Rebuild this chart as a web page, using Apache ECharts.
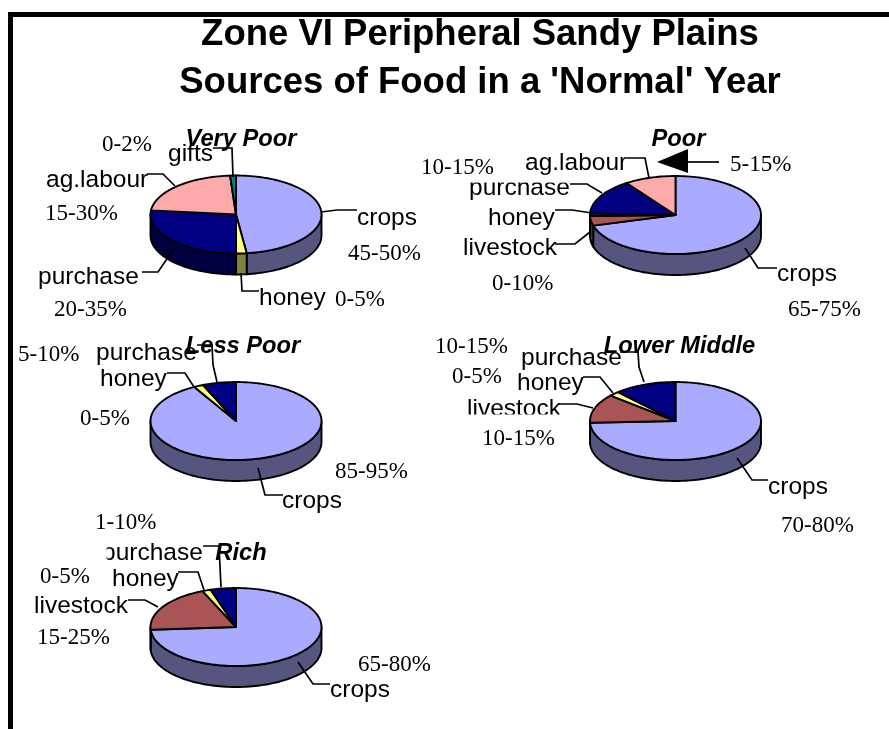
<!DOCTYPE html>
<html><head><meta charset="utf-8">
<style>html,body{margin:0;padding:0;background:#fff}#c{width:889px;height:729px}</style>
<script src="https://cdn.jsdelivr.net/npm/echarts@6/dist/echarts.min.js"></script>
</head><body><div id="c"></div>
<script>
// ---- data ----
const titleLines = ["Zone VI Peripheral Sandy Plains", "Sources of Food in a 'Normal' Year"];
const groups = ["Very Poor", "Poor", "Less Poor", "Lower Middle", "Rich"];

const veryPoorCategories = ["crops", "honey", "purchase", "ag.labour", "gifts"];
const veryPoorValues = [48, 2, 26.7, 22.2, 1.1];
const veryPoorRanges = ["45-50%", "0-5%", "20-35%", "15-30%", "0-2%"];

const poorCategories = ["crops", "livestock", "honey", "purchase", "ag.labour"];
const poorValues = [70.6, 4, 1, 14.7, 9.7];
const poorRanges = ["65-75%", "0-10%", "10-15%", "5-15%"];

const lessPoorCategories = ["crops", "honey", "purchase"];
const lessPoorValues = [91.9, 1.8, 6.3];
const lessPoorRanges = ["85-95%", "1-10%", "5-10%", "0-5%"];

const lowerMiddleCategories = ["crops", "livestock", "honey", "purchase"];
const lowerMiddleValues = [74.3, 12, 2, 11.7];
const lowerMiddleRanges = ["70-80%", "10-15%", "0-5%", "10-15%"];

const richCategories = ["crops", "livestock", "honey", "purchase"];
const richValues = [73.9, 19.7, 1.6, 4.8];
const richRanges = ["65-80%", "15-25%", "0-5%"];

// ---- layout and styling ----
const topColors = {crops:'#AAAAFF', honey:'#FFFF80', purchase:'#000080', 'ag.labour':'#FFAAAA', gifts:'#008080', livestock:'#AA5555'};
const sideColors = {crops:'#555580', honey:'#808040', purchase:'#000040', 'ag.labour':'#805555', gifts:'#004040', livestock:'#552A2A'};
const RX = 85.5, RY = 39, DEPTH = 21;
const SANS = '"Liberation Sans", Arial, sans-serif', SERIF = '"Liberation Serif", "Times New Roman", serif';
const LABEL_SIZE = 24.5, RANGE_SIZE = 23;

const pies = [
  {cats: veryPoorCategories, vals: veryPoorValues, cx: 236, cy: 214.5, head: [241, 139.5]},
  {cats: poorCategories, vals: poorValues, cx: 675.5, cy: 215, head: [678.5, 139.5]},
  {cats: lessPoorCategories, vals: lessPoorValues, cx: 236, cy: 421, head: [243, 346.5]},
  {cats: lowerMiddleCategories, vals: lowerMiddleValues, cx: 675.5, cy: 421, head: [679.5, 346.5]},
  {cats: richCategories, vals: richValues, cx: 236, cy: 627, head: [241, 553.5]}
];

// label text, left x, middle y
const labelPlaces = [
  ['purchase',469,188],['purchase',102,553],['livestock',467,409],
  ['crops',357,218],['honey',259,298],['purchase',38,277],['ag.labour',46,180],['gifts',168,154],
  ['ag.labour',525,163],['honey',488,218],['livestock',463,248],['crops',777,274],
  ['purchase',96,353],['honey',100,379],['crops',282,501],
  ['purchase',521,358],['honey',517,383],['crops',768,487],
  ['honey',112,579],['livestock',34,606],['crops',330,690]
];
const rangePlaces = [
  [veryPoorRanges[4],102,145],[veryPoorRanges[3],45,214],[veryPoorRanges[0],348,254],[veryPoorRanges[2],54,310],[veryPoorRanges[1],335,300],
  [poorRanges[2],421,168],[poorRanges[3],730,165],[poorRanges[1],492,284],[poorRanges[0],788,310],
  [lessPoorRanges[2],18,355],[lessPoorRanges[3],80,419],[lessPoorRanges[0],335,472],[lessPoorRanges[1],95,523],
  [lowerMiddleRanges[1],435,347],[lowerMiddleRanges[2],452,377],[lowerMiddleRanges[3],482,439],[lowerMiddleRanges[0],781,526],
  [richRanges[2],40,577],[richRanges[1],37,638],[richRanges[0],358,665]
];
const leaders = [
  [[213,148],[232,148],[233,177]],[[147,174],[163,174],[175,186]],[[321,212],[337,210],[357,210]],[[142,272],[158,272],[173,250]],[[241,273],[242,291],[259,291]],
  [[627,158],[645,158],[649,178]],[[570,184],[587,184],[602,193]],[[555,210],[572,210],[592,213]],[[555,244],[575,244],[590,232]],[[745,248],[758,268],[777,268]],
  [[197,345],[212,345],[213,365],[217,382]],[[167,373],[185,373],[194,387]],[[258,468],[265,495],[283,495]],
  [[620,352],[638,352],[639,367],[644,382]],[[583,377],[600,377],[613,393]],[[559,404],[577,404],[593,408]],[[737,458],[752,480],[768,480]],
  [[203,546],[219,546],[221,587]],[[178,572],[198,572],[204,590]],[[128,600],[145,600],[158,607]],[[298,662],[313,684],[330,684]]
];
// white boxes that hide parts of overlapped labels
const masks = [[460,156,115,26.5],[460,414.5,105,14],[96,538,10.5,30]];

function arcPoints(p, a, b, dy) {
  const n = Math.max(2, Math.ceil(Math.abs(b - a) / (Math.PI / 90)));
  const out = [];
  for (let i = 0; i <= n; i++) {
    const t = a + (b - a) * i / n;
    out.push([p.cx + RX * Math.sin(t), p.cy - RY * Math.cos(t) + dy]);
  }
  return out;
}

function pieSeries(p, idx) {
  const total = p.vals.reduce((s, v) => s + v, 0);
  return {
    type: 'custom', name: groups[idx], coordinateSystem: 'none', z: 1, silent: true,
    data: p.cats.map((c, i) => ({name: c, value: [p.vals[i]]})),
    renderItem: function (params, api) {
      const i = params.dataIndex;
      let before = 0;
      for (let k = 0; k < i; k++) before += p.vals[k];
      const a = before / total * 2 * Math.PI;
      const b = a + api.value(0) / total * 2 * Math.PI;
      const cat = p.cats[i];
      const children = [];
      const sa = Math.max(a, Math.PI / 2), sb = Math.min(b, Math.PI * 1.5);
      if (sb > sa) {
        children.push({type: 'polygon', z2: 1,
          shape: {points: arcPoints(p, sa, sb, 0).concat(arcPoints(p, sb, sa, DEPTH))},
          style: {fill: sideColors[cat], stroke: '#000', lineWidth: 1.9, lineJoin: 'round'}});
      }
      children.push({type: 'polygon', z2: 2,
        shape: {points: [[p.cx, p.cy]].concat(arcPoints(p, a, b, 0))},
        style: {fill: topColors[cat], stroke: '#000', lineWidth: 1.9, lineJoin: 'round'}});
      return {type: 'group', children};
    }
  };
}

const graphics = [
  {type:'rect', z:50, shape:{x:8,y:12,width:881,height:5}, style:{fill:'#000'}},
  {type:'rect', z:50, shape:{x:8,y:12,width:5,height:717}, style:{fill:'#000'}}
];
labelPlaces.forEach((l, i) => graphics.push({type:'text', z: i < 3 ? 10 : 12, x:l[1], y:l[2],
  style:{text:l[0], font:LABEL_SIZE+'px '+SANS, fill:'#000', textAlign:'left', textVerticalAlign:'middle'}}));
masks.forEach(m => graphics.push({type:'rect', z:11, shape:{x:m[0],y:m[1],width:m[2],height:m[3]}, style:{fill:'#fff'}}));
rangePlaces.forEach(l => graphics.push({type:'text', z:13, x:l[1], y:l[2],
  style:{text:l[0], font:RANGE_SIZE+'px '+SERIF, fill:'#000', textAlign:'left', textVerticalAlign:'middle'}}));
leaders.forEach(pts => graphics.push({type:'polyline', z:14, shape:{points:pts}, style:{stroke:'#000', lineWidth:1.7, fill:null}}));
// arrow beside the Poor heading
graphics.push({type:'polygon', z:14, shape:{points:[[657,162],[688,149],[688,173]]}, style:{fill:'#000'}});
graphics.push({type:'line', z:14, shape:{x1:688,y1:162,x2:719,y2:162}, style:{stroke:'#000', lineWidth:1.7}});

const titles = [{
  text: titleLines.join('\n'), left: 480, top: 11, padding: 0, textAlign: 'center',
  textStyle: {fontFamily: SANS, fontWeight: 'bold', fontSize: 36.5, lineHeight: 48, color: '#000'}
}].concat(pies.map((p, i) => ({
  text: groups[i], left: p.head[0], top: p.head[1] - 12, padding: 0, textAlign: 'center', z: 20,
  textStyle: {fontFamily: SANS, fontWeight: 'bold', fontStyle: 'italic', fontSize: 23.7, color: '#000'}
})));

const chart = echarts.init(document.getElementById('c'), null, {renderer: 'canvas'});
chart.setOption({
  animation: false, backgroundColor: '#fff',
  title: titles,
  series: pies.map(pieSeries),
  graphic: graphics
});
</script></body></html>
